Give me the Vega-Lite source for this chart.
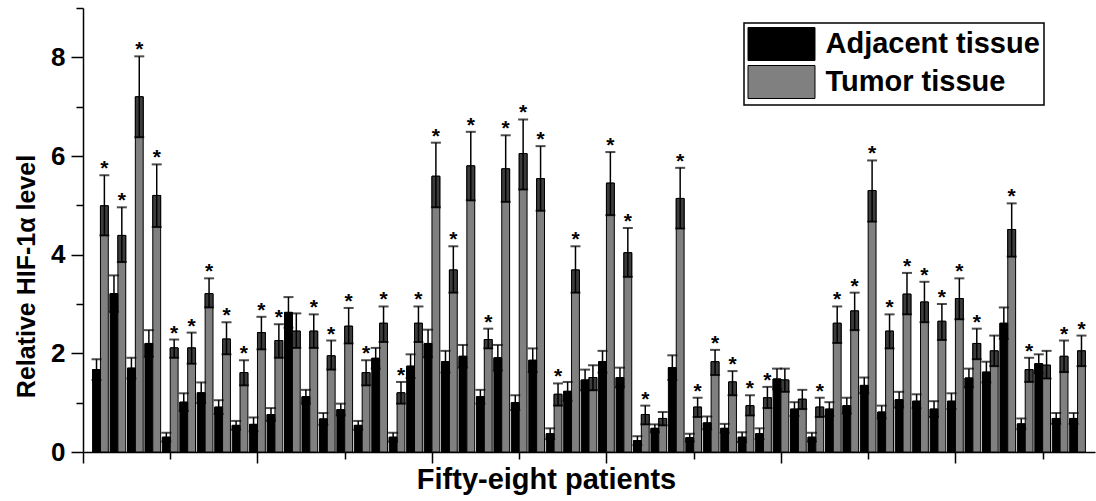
{
  "$schema": "https://vega.github.io/schema/vega-lite/v6.json",
  "width": 1012,
  "height": 444,
  "autosize": {"type": "none"},
  "padding": {"left": 83, "top": 8, "right": 1, "bottom": 49},
  "background": "white",
  "config": {
    "view": {"stroke": null},
    "font": "Liberation Sans",
    "axis": {"grid": false, "domainColor": "black", "tickColor": "black", "domainWidth": 1.5, "tickWidth": 1.5, "labelColor": "black", "titleColor": "black"},
    "legend": {"strokeWidth": 1.5}
  },
  "data": {"values": [
    {"patient":1,"tissue":"Adjacent tissue","mean":1.67,"lo":1.46,"hi":1.88,"star":""},
    {"patient":2,"tissue":"Adjacent tissue","mean":3.21,"lo":2.84,"hi":3.58,"star":""},
    {"patient":3,"tissue":"Adjacent tissue","mean":1.70,"lo":1.49,"hi":1.91,"star":""},
    {"patient":4,"tissue":"Adjacent tissue","mean":2.20,"lo":1.93,"hi":2.47,"star":""},
    {"patient":5,"tissue":"Adjacent tissue","mean":0.30,"lo":0.21,"hi":0.39,"star":""},
    {"patient":6,"tissue":"Adjacent tissue","mean":1.01,"lo":0.83,"hi":1.19,"star":""},
    {"patient":7,"tissue":"Adjacent tissue","mean":1.20,"lo":0.99,"hi":1.41,"star":""},
    {"patient":8,"tissue":"Adjacent tissue","mean":0.91,"lo":0.77,"hi":1.05,"star":""},
    {"patient":9,"tissue":"Adjacent tissue","mean":0.54,"lo":0.45,"hi":0.63,"star":""},
    {"patient":10,"tissue":"Adjacent tissue","mean":0.56,"lo":0.42,"hi":0.70,"star":""},
    {"patient":11,"tissue":"Adjacent tissue","mean":0.76,"lo":0.63,"hi":0.89,"star":""},
    {"patient":12,"tissue":"Adjacent tissue","mean":2.83,"lo":2.52,"hi":3.14,"star":""},
    {"patient":13,"tissue":"Adjacent tissue","mean":1.12,"lo":0.98,"hi":1.26,"star":""},
    {"patient":14,"tissue":"Adjacent tissue","mean":0.67,"lo":0.55,"hi":0.79,"star":""},
    {"patient":15,"tissue":"Adjacent tissue","mean":0.86,"lo":0.74,"hi":0.98,"star":""},
    {"patient":16,"tissue":"Adjacent tissue","mean":0.54,"lo":0.45,"hi":0.63,"star":""},
    {"patient":17,"tissue":"Adjacent tissue","mean":1.90,"lo":1.69,"hi":2.11,"star":""},
    {"patient":18,"tissue":"Adjacent tissue","mean":0.30,"lo":0.21,"hi":0.39,"star":""},
    {"patient":19,"tissue":"Adjacent tissue","mean":1.74,"lo":1.50,"hi":1.98,"star":""},
    {"patient":20,"tissue":"Adjacent tissue","mean":2.20,"lo":1.92,"hi":2.48,"star":""},
    {"patient":21,"tissue":"Adjacent tissue","mean":1.83,"lo":1.61,"hi":2.05,"star":""},
    {"patient":22,"tissue":"Adjacent tissue","mean":1.94,"lo":1.71,"hi":2.17,"star":""},
    {"patient":23,"tissue":"Adjacent tissue","mean":1.12,"lo":0.98,"hi":1.26,"star":""},
    {"patient":24,"tissue":"Adjacent tissue","mean":1.91,"lo":1.65,"hi":2.17,"star":""},
    {"patient":25,"tissue":"Adjacent tissue","mean":1.00,"lo":0.85,"hi":1.15,"star":""},
    {"patient":26,"tissue":"Adjacent tissue","mean":1.86,"lo":1.62,"hi":2.10,"star":""},
    {"patient":27,"tissue":"Adjacent tissue","mean":0.37,"lo":0.26,"hi":0.48,"star":""},
    {"patient":28,"tissue":"Adjacent tissue","mean":1.23,"lo":1.04,"hi":1.42,"star":""},
    {"patient":29,"tissue":"Adjacent tissue","mean":1.46,"lo":1.25,"hi":1.67,"star":""},
    {"patient":30,"tissue":"Adjacent tissue","mean":1.83,"lo":1.61,"hi":2.05,"star":""},
    {"patient":31,"tissue":"Adjacent tissue","mean":1.51,"lo":1.31,"hi":1.71,"star":""},
    {"patient":32,"tissue":"Adjacent tissue","mean":0.23,"lo":0.14,"hi":0.32,"star":""},
    {"patient":33,"tissue":"Adjacent tissue","mean":0.48,"lo":0.40,"hi":0.56,"star":""},
    {"patient":34,"tissue":"Adjacent tissue","mean":1.71,"lo":1.46,"hi":1.96,"star":""},
    {"patient":35,"tissue":"Adjacent tissue","mean":0.29,"lo":0.21,"hi":0.37,"star":""},
    {"patient":36,"tissue":"Adjacent tissue","mean":0.59,"lo":0.46,"hi":0.72,"star":""},
    {"patient":37,"tissue":"Adjacent tissue","mean":0.48,"lo":0.39,"hi":0.57,"star":""},
    {"patient":38,"tissue":"Adjacent tissue","mean":0.30,"lo":0.20,"hi":0.40,"star":""},
    {"patient":39,"tissue":"Adjacent tissue","mean":0.37,"lo":0.26,"hi":0.48,"star":""},
    {"patient":40,"tissue":"Adjacent tissue","mean":1.48,"lo":1.27,"hi":1.69,"star":""},
    {"patient":41,"tissue":"Adjacent tissue","mean":0.87,"lo":0.73,"hi":1.01,"star":""},
    {"patient":42,"tissue":"Adjacent tissue","mean":0.30,"lo":0.21,"hi":0.39,"star":""},
    {"patient":43,"tissue":"Adjacent tissue","mean":0.87,"lo":0.73,"hi":1.01,"star":""},
    {"patient":44,"tissue":"Adjacent tissue","mean":0.94,"lo":0.78,"hi":1.10,"star":""},
    {"patient":45,"tissue":"Adjacent tissue","mean":1.35,"lo":1.19,"hi":1.51,"star":""},
    {"patient":46,"tissue":"Adjacent tissue","mean":0.81,"lo":0.68,"hi":0.94,"star":""},
    {"patient":47,"tissue":"Adjacent tissue","mean":1.06,"lo":0.90,"hi":1.22,"star":""},
    {"patient":48,"tissue":"Adjacent tissue","mean":1.03,"lo":0.89,"hi":1.17,"star":""},
    {"patient":49,"tissue":"Adjacent tissue","mean":0.87,"lo":0.71,"hi":1.03,"star":""},
    {"patient":50,"tissue":"Adjacent tissue","mean":1.03,"lo":0.87,"hi":1.19,"star":""},
    {"patient":51,"tissue":"Adjacent tissue","mean":1.50,"lo":1.31,"hi":1.69,"star":""},
    {"patient":52,"tissue":"Adjacent tissue","mean":1.62,"lo":1.41,"hi":1.83,"star":""},
    {"patient":53,"tissue":"Adjacent tissue","mean":2.61,"lo":2.29,"hi":2.93,"star":""},
    {"patient":54,"tissue":"Adjacent tissue","mean":0.57,"lo":0.46,"hi":0.68,"star":""},
    {"patient":55,"tissue":"Adjacent tissue","mean":1.79,"lo":1.60,"hi":1.98,"star":""},
    {"patient":56,"tissue":"Adjacent tissue","mean":0.68,"lo":0.57,"hi":0.79,"star":""},
    {"patient":57,"tissue":"Adjacent tissue","mean":0.68,"lo":0.57,"hi":0.79,"star":""},
    {"patient":1,"tissue":"Tumor tissue","mean":4.99,"lo":4.39,"hi":5.61,"star":"*"},
    {"patient":2,"tissue":"Tumor tissue","mean":4.39,"lo":3.85,"hi":4.96,"star":"*"},
    {"patient":3,"tissue":"Tumor tissue","mean":7.20,"lo":6.38,"hi":8.02,"star":"*"},
    {"patient":4,"tissue":"Tumor tissue","mean":5.20,"lo":4.56,"hi":5.83,"star":"*"},
    {"patient":5,"tissue":"Tumor tissue","mean":2.11,"lo":1.91,"hi":2.28,"star":"*"},
    {"patient":6,"tissue":"Tumor tissue","mean":2.11,"lo":1.79,"hi":2.42,"star":"*"},
    {"patient":7,"tissue":"Tumor tissue","mean":3.21,"lo":2.93,"hi":3.52,"star":"*"},
    {"patient":8,"tissue":"Tumor tissue","mean":2.29,"lo":1.98,"hi":2.63,"star":"*"},
    {"patient":9,"tissue":"Tumor tissue","mean":1.61,"lo":1.35,"hi":1.86,"star":"*"},
    {"patient":10,"tissue":"Tumor tissue","mean":2.42,"lo":2.08,"hi":2.74,"star":"*"},
    {"patient":11,"tissue":"Tumor tissue","mean":2.26,"lo":1.91,"hi":2.59,"star":"*"},
    {"patient":12,"tissue":"Tumor tissue","mean":2.45,"lo":2.11,"hi":2.81,"star":""},
    {"patient":13,"tissue":"Tumor tissue","mean":2.45,"lo":2.11,"hi":2.79,"star":"*"},
    {"patient":14,"tissue":"Tumor tissue","mean":1.95,"lo":1.67,"hi":2.26,"star":"*"},
    {"patient":15,"tissue":"Tumor tissue","mean":2.55,"lo":2.20,"hi":2.92,"star":"*"},
    {"patient":16,"tissue":"Tumor tissue","mean":1.61,"lo":1.35,"hi":1.86,"star":"*"},
    {"patient":17,"tissue":"Tumor tissue","mean":2.61,"lo":2.23,"hi":2.95,"star":"*"},
    {"patient":18,"tissue":"Tumor tissue","mean":1.20,"lo":0.98,"hi":1.42,"star":"*"},
    {"patient":19,"tissue":"Tumor tissue","mean":2.61,"lo":2.23,"hi":2.95,"star":"*"},
    {"patient":20,"tissue":"Tumor tissue","mean":5.59,"lo":4.96,"hi":6.27,"star":"*"},
    {"patient":21,"tissue":"Tumor tissue","mean":3.69,"lo":3.23,"hi":4.17,"star":"*"},
    {"patient":22,"tissue":"Tumor tissue","mean":5.80,"lo":5.10,"hi":6.49,"star":"*"},
    {"patient":23,"tissue":"Tumor tissue","mean":2.28,"lo":2.10,"hi":2.50,"star":"*"},
    {"patient":24,"tissue":"Tumor tissue","mean":5.74,"lo":5.07,"hi":6.42,"star":"*"},
    {"patient":25,"tissue":"Tumor tissue","mean":6.05,"lo":5.32,"hi":6.74,"star":"*"},
    {"patient":26,"tissue":"Tumor tissue","mean":5.54,"lo":4.89,"hi":6.20,"star":"*"},
    {"patient":27,"tissue":"Tumor tissue","mean":1.17,"lo":0.94,"hi":1.39,"star":"*"},
    {"patient":28,"tissue":"Tumor tissue","mean":3.69,"lo":3.23,"hi":4.17,"star":"*"},
    {"patient":29,"tissue":"Tumor tissue","mean":1.51,"lo":1.25,"hi":1.76,"star":""},
    {"patient":30,"tissue":"Tumor tissue","mean":5.45,"lo":4.80,"hi":6.08,"star":"*"},
    {"patient":31,"tissue":"Tumor tissue","mean":4.04,"lo":3.55,"hi":4.54,"star":"*"},
    {"patient":32,"tissue":"Tumor tissue","mean":0.76,"lo":0.56,"hi":0.94,"star":"*"},
    {"patient":33,"tissue":"Tumor tissue","mean":0.68,"lo":0.54,"hi":0.81,"star":""},
    {"patient":34,"tissue":"Tumor tissue","mean":5.14,"lo":4.53,"hi":5.76,"star":"*"},
    {"patient":35,"tissue":"Tumor tissue","mean":0.91,"lo":0.71,"hi":1.10,"star":"*"},
    {"patient":36,"tissue":"Tumor tissue","mean":1.83,"lo":1.56,"hi":2.07,"star":"*"},
    {"patient":37,"tissue":"Tumor tissue","mean":1.42,"lo":1.15,"hi":1.64,"star":"*"},
    {"patient":38,"tissue":"Tumor tissue","mean":0.94,"lo":0.74,"hi":1.15,"star":"*"},
    {"patient":39,"tissue":"Tumor tissue","mean":1.10,"lo":0.89,"hi":1.32,"star":"*"},
    {"patient":40,"tissue":"Tumor tissue","mean":1.46,"lo":1.22,"hi":1.69,"star":""},
    {"patient":41,"tissue":"Tumor tissue","mean":1.07,"lo":0.87,"hi":1.26,"star":""},
    {"patient":42,"tissue":"Tumor tissue","mean":0.91,"lo":0.71,"hi":1.10,"star":"*"},
    {"patient":43,"tissue":"Tumor tissue","mean":2.61,"lo":2.21,"hi":2.95,"star":"*"},
    {"patient":44,"tissue":"Tumor tissue","mean":2.86,"lo":2.47,"hi":3.23,"star":"*"},
    {"patient":45,"tissue":"Tumor tissue","mean":5.30,"lo":4.67,"hi":5.91,"star":"*"},
    {"patient":46,"tissue":"Tumor tissue","mean":2.45,"lo":2.10,"hi":2.79,"star":"*"},
    {"patient":47,"tissue":"Tumor tissue","mean":3.20,"lo":2.79,"hi":3.63,"star":"*"},
    {"patient":48,"tissue":"Tumor tissue","mean":3.04,"lo":2.63,"hi":3.45,"star":"*"},
    {"patient":49,"tissue":"Tumor tissue","mean":2.65,"lo":2.27,"hi":3.00,"star":"*"},
    {"patient":50,"tissue":"Tumor tissue","mean":3.11,"lo":2.69,"hi":3.52,"star":"*"},
    {"patient":51,"tissue":"Tumor tissue","mean":2.20,"lo":1.88,"hi":2.50,"star":"*"},
    {"patient":52,"tissue":"Tumor tissue","mean":2.05,"lo":1.74,"hi":2.36,"star":""},
    {"patient":53,"tissue":"Tumor tissue","mean":4.51,"lo":3.96,"hi":5.04,"star":"*"},
    {"patient":54,"tissue":"Tumor tissue","mean":1.67,"lo":1.42,"hi":1.91,"star":"*"},
    {"patient":55,"tissue":"Tumor tissue","mean":1.76,"lo":1.49,"hi":2.05,"star":""},
    {"patient":56,"tissue":"Tumor tissue","mean":1.94,"lo":1.62,"hi":2.26,"star":"*"},
    {"patient":57,"tissue":"Tumor tissue","mean":2.05,"lo":1.74,"hi":2.36,"star":"*"}
  ]},
  "layer": [
    {
      "layer": [
        {
          "mark": {"type": "bar", "stroke": "black", "strokeWidth": 1},
          "encoding": {
            "x": {"field": "patient", "type": "ordinal", "scale": {"paddingInner": 0.1, "paddingOuter": 0.55}, "axis": null},
            "xOffset": {"field": "tissue", "type": "nominal", "scale": {"paddingInner": 0, "paddingOuter": 0}},
            "y": {"field": "mean", "type": "quantitative", "scale": {"domain": [0, 9], "nice": false, "zero": true},
              "axis": {
                "values": [0, 1, 2, 3, 4, 5, 6, 7, 8, 9],
                "labelExpr": "datum.value % 2 === 0 ? datum.label : ''",
                "tickSize": {"condition": {"test": "datum.value % 2 === 0", "value": 12}, "value": 7},
                "labelFont": "Liberation Sans", "labelFontSize": 26, "labelFontWeight": "bold", "labelPadding": 6,
                "title": "Relative HIF-1α level", "titleFont": "Liberation Sans", "titleFontSize": 25, "titleFontWeight": "bold",
                "titleX": -49, "titleY": 268, "titleBaseline": "alphabetic", "titleAngle": -90, "titleAlign": "center"
              }},
            "color": {"field": "tissue", "type": "nominal",
              "scale": {"domain": ["Adjacent tissue", "Tumor tissue"], "range": ["black", "#808080"]},
              "legend": {
                "title": null, "orient": "none", "legendX": 661, "legendY": 15, "direction": "vertical",
                "symbolType": "M-2.03,-1H2.03V1H-2.03Z", "symbolSize": 1089,
                "symbolStrokeColor": "black", "symbolStrokeWidth": 1, "symbolOpacity": 1, "symbolOffset": 16.5,
                "labelFont": "Liberation Sans", "labelFontSize": 29, "labelFontWeight": "bold", "labelColor": "black",
                "labelOffset": 27, "labelLimit": 400, "rowPadding": 0, "padding": 4,
                "strokeColor": "black", "fillColor": "white"
              }}
          }
        },
        {
          "mark": {"type": "bar", "stroke": "black", "strokeWidth": 1},
          "encoding": {
            "x": {"field": "patient", "type": "ordinal", "axis": null},
            "xOffset": {"field": "tissue", "type": "nominal"},
            "y": {"field": "lo", "type": "quantitative"},
            "y2": {"field": "mean"},
            "color": {"condition": {"test": "datum.tissue === 'Tumor tissue'", "value": "#3c3c3c"}, "value": "black"}
          }
        },
        {
          "mark": {"type": "rule", "color": "black", "strokeWidth": 1.5},
          "encoding": {
            "x": {"field": "patient", "type": "ordinal", "axis": null},
            "xOffset": {"field": "tissue", "type": "nominal"},
            "y": {"field": "lo", "type": "quantitative"},
            "y2": {"field": "hi"}
          }
        },
        {
          "mark": {"type": "tick", "color": "black", "size": 10, "thickness": 2, "orient": "horizontal"},
          "encoding": {
            "x": {"field": "patient", "type": "ordinal", "axis": null},
            "xOffset": {"field": "tissue", "type": "nominal"},
            "y": {"field": "hi", "type": "quantitative"}
          }
        },
        {
          "mark": {"type": "tick", "color": "black", "size": 10, "thickness": 2, "orient": "horizontal"},
          "encoding": {
            "x": {"field": "patient", "type": "ordinal", "axis": null},
            "xOffset": {"field": "tissue", "type": "nominal"},
            "y": {"field": "lo", "type": "quantitative"}
          }
        },
        {
          "mark": {"type": "text", "font": "Liberation Sans", "fontSize": 21, "fontWeight": "bold", "baseline": "alphabetic", "color": "black"},
          "encoding": {
            "x": {"field": "patient", "type": "ordinal", "axis": null},
            "xOffset": {"field": "tissue", "type": "nominal"},
            "y": {"field": "hi", "type": "quantitative"},
            "text": {"field": "star"}
          }
        }
      ]
    },
    {
      "mark": {"type": "point", "opacity": 0},
      "encoding": {
        "x": {"field": "patient", "type": "quantitative", "scale": {"domain": [0, 58], "nice": false, "zero": false},
          "axis": {
            "orient": "bottom",
            "values": [0, 5, 10, 15, 20, 25, 30, 35, 40, 45, 50, 55],
            "labels": false,
            "tickSize": {"condition": {"test": "datum.value % 10 === 0", "value": 11}, "value": 7},
            "title": "Fifty-eight patients", "titleFont": "Liberation Sans", "titleFontSize": 29, "titleFontWeight": "bold",
            "titleX": 463, "titleY": 36, "titleBaseline": "alphabetic", "titleAlign": "center"
          }}
      }
    }
  ],
  "resolve": {"scale": {"x": "independent"}, "axis": {"x": "independent"}}
}
